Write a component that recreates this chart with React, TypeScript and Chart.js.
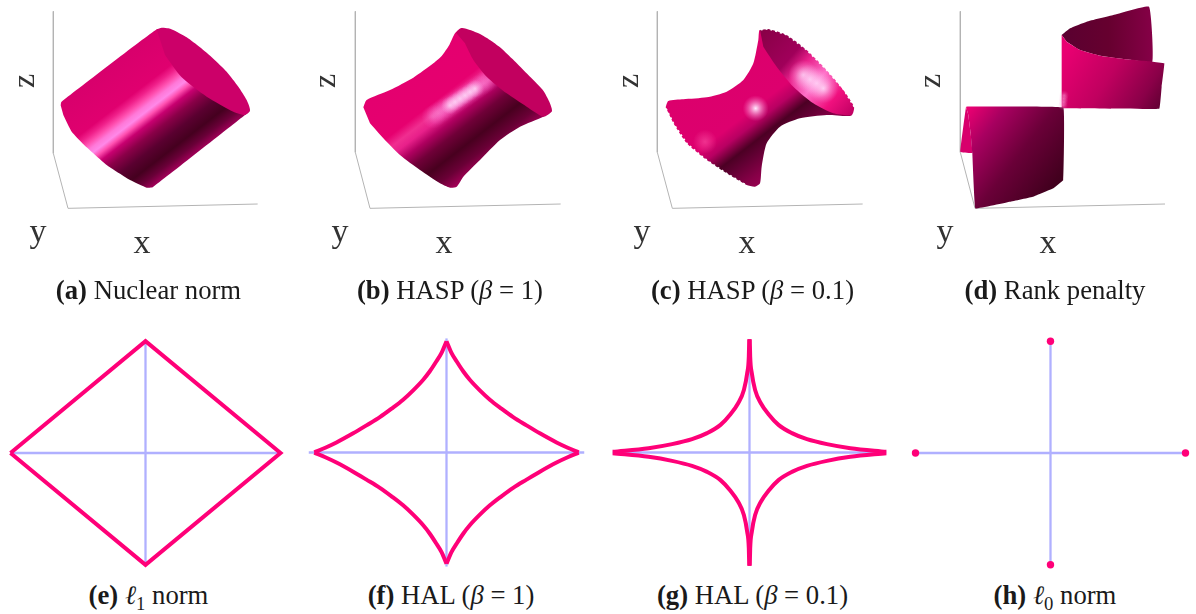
import React, { useEffect, useRef } from "react";
import Chart from "chart.js/auto";

type P = [number, number];
const INK = "#2b2b2b";
const MAGENTA = "#ff0078";
const BLUE = "#b0b0ff";
const AXIS = "#b4b4b4";
const SERIF = "'Liberation Serif', serif";

// ---- surface outlines (units: 1/3 px inside each panel) ----
const nuclearAxes: P[] = [[160, 34], [160, 460], [204, 625], [773, 612]];
const nuclearBody: P[] = [[182, 316], [184, 306], [470, 88], [500, 90], [640, 200], [750, 332], [735, 345], [458, 562], [440, 563], [390, 540], [320, 495], [260, 442], [215, 395], [190, 345]];
const nuclearCap: P[] = [[470, 88], [485, 83], [505, 85], [530, 95], [560, 112], [600, 142], [640, 176], [680, 215], [715, 260], [740, 300], [750, 330], [735, 345], [700, 335], [620, 290], [545, 232], [495, 165]];

const haspAxes: P[] = [[166, 34], [166, 457], [210, 625], [782, 612]];
const haspBody: P[] = [[190, 322], [200, 300], [270, 270], [340, 233], [400, 190], [425, 168], [448, 135], [465, 100], [485, 85], [600, 200], [755, 330], [730, 350], [660, 380], [600, 420], [540, 480], [490, 530], [470, 560], [450, 563], [420, 550], [360, 510], [300, 465], [250, 415], [210, 370]];
const haspCap: P[] = [[468, 98], [485, 84], [510, 90], [540, 102], [570, 120], [600, 142], [635, 175], [670, 210], [700, 240], [730, 272], [748, 305], [755, 325], [755, 335], [730, 350], [680, 320], [620, 280], [560, 230], [520, 180], [495, 130]];
const haspGlowWide: P[] = [[400, 350], [415, 340], [430, 330], [445, 320], [460, 310], [475, 300], [490, 290], [505, 280], [520, 270], [535, 260], [550, 250], [565, 240]];
const haspGlowCore: P[] = [[450, 316], [465, 306], [480, 296], [495, 286], [510, 276], [525, 266]];

const sharpAxes: P[] = [[172, 34], [172, 457], [217, 625], [788, 612]];
const sharpBody: P[] = [[197, 322], [205, 303], [250, 298], [320, 292], [380, 275], [430, 240], [460, 190], [475, 120], [480, 90], [620, 220], [755, 345], [680, 345], [600, 355], [540, 380], [500, 430], [485, 500], [480, 550], [465, 560], [440, 555], [380, 520], [320, 480], [260, 430], [220, 370]];
const sharpCap: P[] = [[480, 90], [505, 87], [560, 105], [620, 150], [680, 210], [730, 270], [762, 320], [755, 345], [700, 340], [640, 310], [580, 260], [530, 200], [490, 140]];
const sharpFrayLow: P[] = [[197, 326], [220, 372], [260, 432], [320, 482], [380, 522], [440, 557]];
const sharpFrayHigh: P[] = [[482, 88], [505, 85], [560, 103], [620, 148], [680, 208], [732, 268], [764, 320]];
const sharpGlowBody: P[] = [[467, 325]];
const sharpGlowCap: P[] = [[610, 225], [630, 238], [650, 250], [670, 265]];
const sharpGlowRim: P[] = [[315, 425]];

const rankAxes: P[] = [[181, 34], [181, 457], [225, 625], [795, 612]];
const rankBack: P[] = [[485, 105], [510, 85], [560, 65], [640, 45], [747, 20], [757, 185], [680, 178], [600, 167], [540, 150], [500, 125]];
const rankUpper: P[] = [[485, 105], [500, 125], [540, 150], [600, 167], [680, 178], [757, 185], [793, 190], [785, 260], [778, 326], [485, 325]];
const rankFlap: P[] = [[198, 320], [181, 455], [217, 459], [212, 400], [205, 345]];
const rankLower: P[] = [[198, 320], [490, 323], [490, 540], [460, 565], [400, 590], [330, 605], [226, 625], [217, 459], [212, 400], [205, 345]];
const rankGlow: P[] = [[489, 316], [490, 306], [491, 296], [492, 286]];

// ---- unit-ball curves, first quadrant ----
const halOneQuadrant: P[] = [[0, 0.975], [0.036, 0.873], [0.073, 0.8], [0.121, 0.712], [0.169, 0.638], [0.242, 0.545], [0.315, 0.463], [0.399, 0.384], [0.484, 0.31], [0.581, 0.238], [0.678, 0.168], [0.799, 0.088], [0.88, 0.042], [0.96, 0.002]];
const halTenthQuadrant: P[] = [[0.002, 1], [0.005, 0.847], [0.017, 0.7], [0.041, 0.553], [0.083, 0.435], [0.139, 0.338], [0.212, 0.244], [0.31, 0.171], [0.42, 0.118], [0.566, 0.074], [0.737, 0.038], [1, 0.006]];
const diamondLoop: P[] = [[-1, 0], [0, 1], [1, 0], [0, -1], [-1, 0]];
const sparsePoints: P[] = [[-1, 0], [1, 0], [0, 1], [0, -1]];

const pts = (a: P[]) => a.map(([x, y]) => ({ x, y }));

function linear(x0: number, y0: number, x1: number, y1: number, stops: [number, string][]) {
  return (c: any) => {
    const { x, y } = c.chart.scales;
    const a = x.getPixelForValue(x0), b = y.getPixelForValue(y0), d = x.getPixelForValue(x1), e = y.getPixelForValue(y1);
    if (![a, b, d, e].every(Number.isFinite)) return stops[0][1];
    const g = c.chart.ctx.createLinearGradient(a, b, d, e);
    stops.forEach(([t, col]) => g.addColorStop(t, col));
    return g;
  };
}
const shape = (a: P[], fillStyle: any, tension = 0.22) => ({
  data: pts(a), showLine: true, fill: "shape", backgroundColor: fillStyle, borderWidth: 0, pointRadius: 0, tension,
});
const stroke = (a: P[], color: string, width: number, extra: any = {}) => ({
  data: pts(a), showLine: true, fill: false, borderColor: color, borderWidth: width, pointRadius: 0, tension: 0, ...extra,
});
const glow = (a: P[], radius: number, inner: string, outer: string) => ({
  data: pts(a), showLine: false, pointRadius: radius, pointBorderWidth: 0, pointHoverRadius: radius,
  pointBackgroundColor: (c: any) => {
    const { x, y } = c.chart.scales;
    const p = c.parsed;
    if (!p) return inner;
    const px = x.getPixelForValue(p.x), py = y.getPixelForValue(p.y);
    if (!Number.isFinite(px) || !Number.isFinite(py)) return inner;
    const g = c.chart.ctx.createRadialGradient(px, py, 0, px, py, radius);
    g.addColorStop(0, inner);
    g.addColorStop(1, outer);
    return g;
  },
});

const surfaces: any[][] = [
  [
    stroke(nuclearAxes, AXIS, 1),
    shape(nuclearBody, linear(182, 310, 406, 601, [[0, "#d8006c"], [0.3, "#e0006f"], [0.35, "#f0208a"], [0.4, "#ff50b0"], [0.44, "#ff78d8"], [0.48, "#ff88e8"], [0.52, "#ff50b0"], [0.57, "#c80070"], [0.65, "#8a0048"], [0.75, "#5a0030"], [0.85, "#45001f"], [0.93, "#6a0038"], [1, "#a00058"]]), 0.12),
    shape(nuclearCap, "#cc0069"),
  ],
  [
    stroke(haspAxes, AXIS, 1),
    shape(haspBody, linear(190, 320, 408, 603, [[0, "#e4006f"], [0.33, "#e6006f"], [0.41, "#f02e90"], [0.47, "#e8208a"], [0.55, "#b00060"], [0.65, "#700038"], [0.78, "#48001f"], [0.9, "#6a0036"], [1, "#a00055"]])),
    glow(haspGlowWide, 12, "rgba(255,170,235,0.38)", "rgba(255,120,220,0)"),
    glow(haspGlowCore, 9, "rgba(255,235,255,0.7)", "rgba(255,190,245,0)"),
    shape(haspCap, "#c2005f"),
  ],
  [
    stroke(sharpAxes, AXIS, 1),
    shape(sharpBody, linear(197, 320, 421, 611, [[0, "#dc006c"], [0.45, "#dd006e"], [0.55, "#b80062"], [0.67, "#4c0024"], [0.75, "#600032"], [0.9, "#880048"], [1, "#9a0052"]])),
    glow(sharpGlowRim, 12, "rgba(255,90,170,0.55)", "rgba(255,90,170,0)"),
    glow(sharpGlowBody, 13, "rgba(255,235,255,1)", "rgba(255,120,200,0)"),
    shape(sharpCap, linear(490, 100, 760, 340, [[0, "#8a0048"], [0.3, "#a0005a"], [0.42, "#e8208a"], [0.6, "#ff70c8"], [0.8, "#f0107e"], [1, "#c00062"]])),
    glow(sharpGlowCap, 15, "rgba(255,230,255,0.8)", "rgba(255,150,220,0)"),
    stroke(sharpFrayLow, "#ffffff", 2.4, { borderDash: [2, 3] }),
    stroke(sharpFrayHigh, "#ffffff", 2.4, { borderDash: [2, 3] }),
  ],
  [
    stroke(rankAxes, AXIS, 1),
    shape(rankBack, linear(490, 100, 760, 100, [[0, "#5a0030"], [0.5, "#66002f"], [1, "#860047"]]), 0.1),
    shape(rankUpper, linear(490, 160, 780, 340, [[0, "#ea0072"], [0.45, "#c0005f"], [0.8, "#8a0048"], [1, "#5c0030"]]), 0.04),
    shape(rankFlap, "#d8006c", 0.06),
    shape(rankLower, linear(210, 320, 480, 530, [[0, "#ea0072"], [0.25, "#a80060"], [0.6, "#6a0038"], [1, "#42001e"]]), 0.04),
    glow(rankGlow, 5, "rgba(255,210,245,0.4)", "rgba(255,120,200,0)"),
  ],
];

const quadrantSigns: P[] = [[1, 1], [-1, 1], [-1, -1], [1, -1]];
const cross: any[] = [
  stroke([[-1, 0], [1, 0]], BLUE, 2.3),
  stroke([[0, -1], [0, 1]], BLUE, 2.3),
];
const arcs = (q: P[]) => quadrantSigns.map(([sx, sy]) => ({
  ...stroke(q.map(([x, y]) => [x * sx, y * sy] as P), MAGENTA, 4, { cubicInterpolationMode: "monotone" }),
}));
const balls: any[][] = [
  [...cross, stroke(diamondLoop, MAGENTA, 4, { borderJoinStyle: "miter" })],
  [...cross, ...arcs(halOneQuadrant)],
  [...cross, ...arcs(halTenthQuadrant)],
  [...cross, { data: pts(sparsePoints), showLine: false, pointRadius: 3.7, pointBorderWidth: 0, pointBackgroundColor: MAGENTA }],
];

const topLefts = [0, 300, 600, 900];
const ballCentres: { cx: number; ux: number; uy: number }[] = [
  { cx: 145, ux: 135, uy: 111.7 },
  { cx: 446.7, ux: 137.7, uy: 114 },
  { cx: 749.3, ux: 136.7, uy: 113.3 },
  { cx: 1050.7, ux: 134.8, uy: 111.7 },
];
const BALL_CY = 452.7;
const BALL_RANGE = 1.1;

const axisLetters: { t: string; x: number; y: number; rot?: boolean }[] = [
  { t: "z", x: 23, y: 81, rot: true }, { t: "y", x: 38, y: 231 }, { t: "x", x: 142, y: 242 },
  { t: "z", x: 324, y: 81, rot: true }, { t: "y", x: 340, y: 231 }, { t: "x", x: 444, y: 242 },
  { t: "z", x: 627, y: 81, rot: true }, { t: "y", x: 642, y: 231 }, { t: "x", x: 747, y: 242 },
  { t: "z", x: 929, y: 81, rot: true }, { t: "y", x: 945, y: 231 }, { t: "x", x: 1048, y: 242 },
];

const I = (s: string) => <i>{s}</i>;
const captions: { x: number; y: number; tag: string; body: React.ReactNode }[] = [
  { x: 148.5, y: 290, tag: "(a)", body: <> Nuclear norm</> },
  { x: 450, y: 290, tag: "(b)", body: <> HASP ({I("β")} = 1)</> },
  { x: 752.5, y: 290, tag: "(c)", body: <> HASP ({I("β")} = 0.1)</> },
  { x: 1055, y: 290, tag: "(d)", body: <> Rank penalty</> },
  { x: 148.5, y: 595, tag: "(e)", body: <> {I("ℓ")}<sub style={{ fontSize: "70%", lineHeight: 0 }}>1</sub> norm</> },
  { x: 451, y: 595, tag: "(f)", body: <> HAL ({I("β")} = 1)</> },
  { x: 752.5, y: 595, tag: "(g)", body: <> HAL ({I("β")} = 0.1)</> },
  { x: 1055, y: 595, tag: "(h)", body: <> {I("ℓ")}<sub style={{ fontSize: "70%", lineHeight: 0 }}>0</sub> norm</> },
];

function Panel({ left, top, width, height, xr, yr, reverseY, sets }: any) {
  const ref = useRef<HTMLCanvasElement>(null);
  useEffect(() => {
    const chart = new Chart(ref.current as HTMLCanvasElement, {
      type: "scatter",
      data: { datasets: [...sets].reverse() },
      options: {
        animation: false,
        responsive: false,
        devicePixelRatio: 1,
        layout: { padding: 0, autoPadding: false },
        events: [],
        plugins: { legend: { display: false }, tooltip: { enabled: false }, title: { display: false } },
        scales: {
          x: { type: "linear", display: false, min: xr[0], max: xr[1] },
          y: { type: "linear", display: false, min: yr[0], max: yr[1], reverse: reverseY },
        },
      } as any,
    });
    return () => chart.destroy();
  }, []);
  return <canvas ref={ref} width={width} height={height} style={{ position: "absolute", left, top, width, height }} />;
}

export default function App() {
  return (
    <div style={{ position: "absolute", left: 0, top: 0, width: 1196, height: 614, overflow: "hidden", background: "#fff", fontFamily: SERIF, color: INK }}>
      {surfaces.map((s, i) => (
        <Panel key={"s" + i} left={topLefts[i]} top={0} width={300} height={310} xr={[0, 900]} yr={[0, 930]} reverseY sets={s} />
      ))}
      {balls.map((s, i) => {
        const b = ballCentres[i];
        const w = Math.round(2 * BALL_RANGE * b.ux), h = Math.round(2 * BALL_RANGE * b.uy);
        return <Panel key={"b" + i} left={b.cx - w / 2} top={BALL_CY - h / 2} width={w} height={h} xr={[-BALL_RANGE, BALL_RANGE]} yr={[-BALL_RANGE, BALL_RANGE]} reverseY={false} sets={s} />;
      })}
      {axisLetters.map((a, i) => (
        <div key={"a" + i} style={{ position: "absolute", left: a.x, top: a.y, fontSize: a.rot ? 32 : 34, lineHeight: "34px", transform: `translate(-50%,-50%)${a.rot ? " rotate(-90deg)" : ""}`, color: "#333" }}>{a.t}</div>
      ))}
      {captions.map((c, i) => (
        <div key={"c" + i} style={{ position: "absolute", left: c.x, top: c.y, fontSize: 26.7, lineHeight: "30px", whiteSpace: "nowrap", transform: "translate(-50%,-50%)", color: "#1a1a1a" }}>
          <b>{c.tag}</b>{c.body}
        </div>
      ))}
    </div>
  );
}
